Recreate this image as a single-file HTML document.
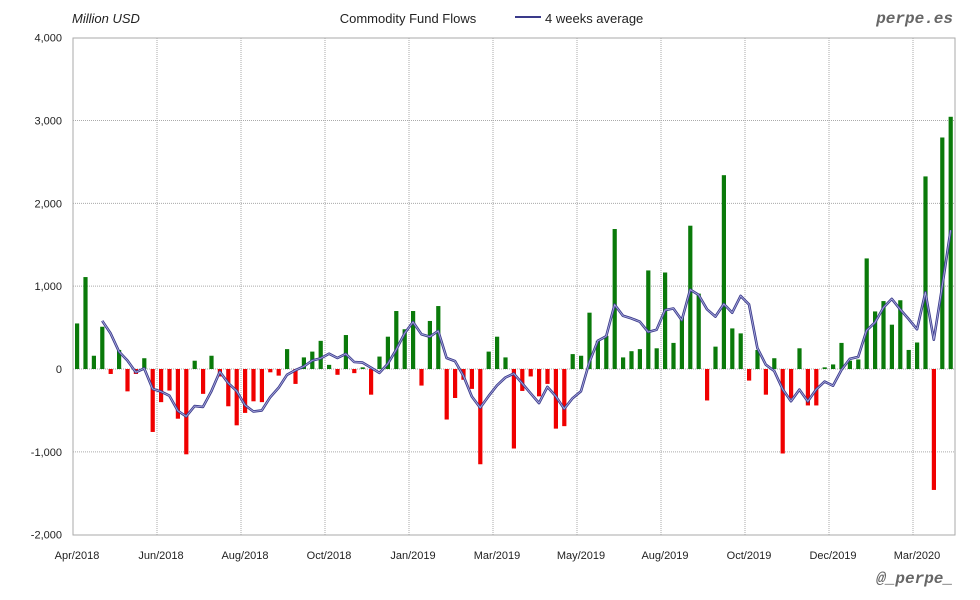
<!DOCTYPE html>
<html><head><meta charset="utf-8"><style>
body{margin:0;background:#fff;}
svg{display:block;font-family:"Liberation Sans",sans-serif;}
</style></head><body>
<svg id="c" width="980" height="600" xmlns="http://www.w3.org/2000/svg">
<rect x="0" y="0" width="980" height="600" fill="#fff"/>
<g id="grid"></g>
<rect x="73" y="38" width="882" height="497" fill="none" stroke="#aaa" stroke-width="1"/>
<g id="bars"></g>
<g id="line"></g>
<g id="lab" font-size="11" fill="#222"></g>
<text x="72" y="23" font-size="13" font-style="italic" fill="#222">Million USD</text>
<text x="408" y="23" font-size="13" text-anchor="middle" fill="#222">Commodity Fund Flows</text>
<line x1="515" y1="17" x2="541" y2="17" stroke="#3a3a8a" stroke-width="2"/>
<text x="545" y="23" font-size="13" fill="#222">4 weeks average</text>
<text x="953" y="23" font-size="16" font-weight="bold" font-style="italic" text-anchor="end" fill="#666" font-family="Liberation Mono,monospace">perpe.es</text>
<text x="953" y="583" font-size="16" font-weight="bold" font-style="italic" text-anchor="end" fill="#666" font-family="Liberation Mono,monospace">@_perpe_</text>
</svg>
<script>
const v=[550,1110,160,510,-60,230,-270,-60,130,-760,-400,-260,-600,-1030,100,-300,160,-90,-450,-680,-530,-390,-400,-40,-80,240,-180,140,210,340,50,-70,410,-50,20,-310,150,390,700,480,700,-200,580,760,-610,-350,-130,-240,-1150,
210,390,140,-960,-265,-90,-330,-180,-720,-690,180,160,680,340,400,1690,140,215,240,1190,250,1165,315,625,1730,910,-380,270,2340,490,430,-140,230,-310,130,-1020,-355,250,-440,-440,20,55,315,100,115,1335,695,820,535,830,230,320,2325,-1460,2795,3045];
const ns="http://www.w3.org/2000/svg";
function el(p,t,a,txt){const e=document.createElementNS(ns,t);for(const k in a)e.setAttribute(k,a[k]);if(txt!==undefined)e.textContent=txt;p.appendChild(e);return e;}
const Y=x=>369-x*0.08283;
const g=document.getElementById('grid'),lab=document.getElementById('lab');
[4000,3000,2000,1000,0,-1000,-2000].forEach(t=>{
 const y=Y(t);
 if(t!==4000&&t!==-2000)el(g,'line',{x1:73,x2:955,y1:y,y2:y,stroke:'#aaa','stroke-dasharray':'1,1'});
 el(lab,'text',{x:62,y:y+4,'text-anchor':'end'},t.toLocaleString('en-US'));
});
const months=['Apr/2018','Jun/2018','Aug/2018','Oct/2018','Jan/2019','Mar/2019','May/2019','Aug/2019','Oct/2019','Dec/2019','Mar/2020'];
months.forEach((m,i)=>{
 const x=73+i*84;
 if(i>0)el(g,'line',{x1:x,x2:x,y1:38,y2:535,stroke:'#aaa','stroke-dasharray':'1,1'});
 el(lab,'text',{x:(i==0?77:x+4),y:559,'text-anchor':'middle'},m);
});
const b=document.getElementById('bars');
v.forEach((d,i)=>{
 const x=77+i*8.4;
 const y0=Y(0),y1=Y(d);
 el(b,'rect',{x:x-2,y:Math.min(y0,y1),width:4.2,height:Math.abs(y1-y0),fill:d>=0?'#0a7a0a':'#f00000'});
});
let pts=[];
for(let i=3;i<v.length;i++){const a=(v[i]+v[i-1]+v[i-2]+v[i-3])/4;pts.push((77+i*8.4).toFixed(1)+','+Y(a).toFixed(1));}
const L=document.getElementById('line');
el(L,'polyline',{points:pts.join(' '),fill:'none',stroke:'#3a3a8a','stroke-width':2.6,'stroke-linejoin':'round'});
el(L,'polyline',{points:pts.join(' '),fill:'none',stroke:'#a8a8dd','stroke-width':0.9,'stroke-linejoin':'round'});
</script>
</body></html>
